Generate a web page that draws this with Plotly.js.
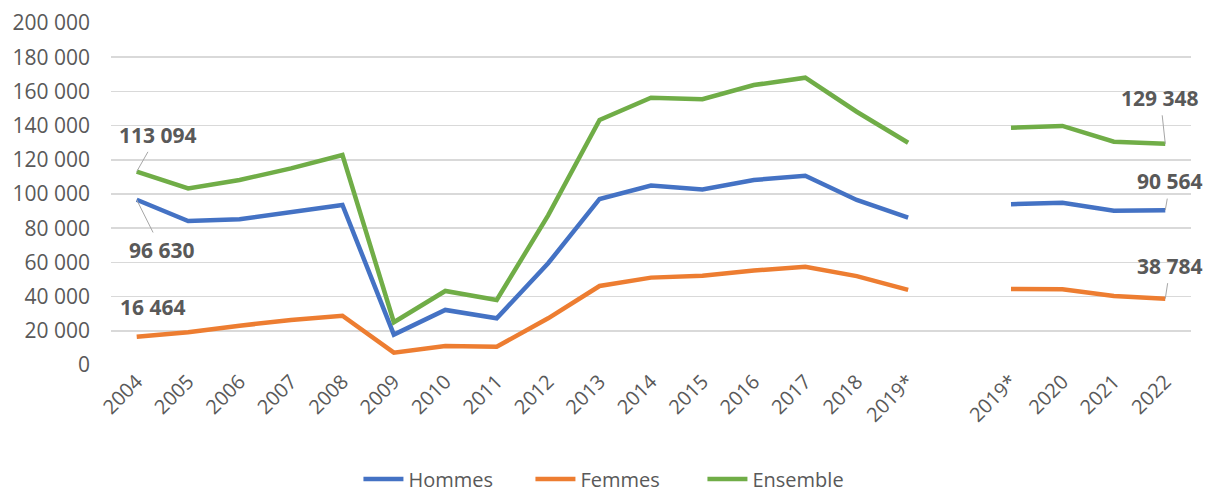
<!DOCTYPE html>
<html>
<head>
<meta charset="utf-8">
<script src="https://cdn.plot.ly/plotly-3.0.1.min.js"></script>
<style>html,body{margin:0;padding:0;background:#fff;}#chart{width:1214px;height:492px;}</style>
</head>
<body>
<div id="chart"></div>
<script>
// Category labels ('' = empty slot separating the two series)
const labels = ['2004','2005','2006','2007','2008','2009','2010','2011','2012','2013','2014','2015','2016','2017','2018','2019*','','2019*','2020','2021','2022'];

const hommes   = [96630, 84200, 85200, 89100, 93600, 17800, 32200, 27300, 59500, 97100, 104900, 102700, 108200, 110700, 96500, 86200, null, 94000, 94900, 90200, 90564];
const femmes   = [16464, 19100, 23000, 26300, 28800, 7200, 11100, 10700, 27300, 46200, 51100, 52200, 55200, 57500, 52000, 43900, null, 44400, 44300, 40400, 38784];
const ensemble = [113094, 103300, 108200, 115000, 122800, 25000, 43300, 38000, 87500, 143300, 156300, 155400, 163700, 168000, 148100, 130000, null, 138800, 139800, 130600, 129348];

const names  = ['Hommes', 'Femmes', 'Ensemble'];
const colors = ['#4472C4', '#ED7D31', '#70AD47'];

const xs = labels.map((_, i) => i);
const tickIdx = xs.filter(i => labels[i] !== '');

function fmt(v) {
  return String(Math.round(v)).replace(/\B(?=(\d{3})+(?!\d))/g, ' ');
}

const series = [hommes, femmes, ensemble];
const traces = series.map((s, k) => ({
  type: 'scatter', mode: 'lines', x: xs, y: s, name: names[k],
  connectgaps: false,
  line: {color: colors[k], width: 4.5, shape: 'linear'},
  hoverinfo: 'skip'
}));

const first = 0, last = labels.length - 1;
const lblFont = {family: 'Open Sans, sans-serif', size: 21, color: '#595959', weight: 'bold'};
function ann(idx, s, ax, ay, arrow) {
  return {
    x: idx, y: s[idx], xref: 'x', yref: 'y',
    text: '<b>' + fmt(s[idx]) + '</b>', font: lblFont,
    showarrow: arrow, arrowhead: 0, arrowwidth: 1, arrowcolor: '#A6A6A6',
    ax: arrow ? ax : 0, ay: arrow ? ay : 0,
    xshift: arrow ? 0 : ax, yshift: arrow ? 0 : -ay,
    standoff: 0, startstandoff: 2
  };
}

const annotations = [
  ann(first, ensemble, 21, -37, true),
  ann(first, hommes, 25, 50, true),
  ann(first, femmes, 16, -30, false),
  ann(last, ensemble, -5, -46, true),
  ann(last, hommes, 5, -29, true),
  ann(last, femmes, 5, -33, true)
];

const layout = {
  width: 1214, height: 492,
  margin: {l: 111, r: 23, t: 23, b: 127, autoexpand: false},
  paper_bgcolor: '#ffffff', plot_bgcolor: '#ffffff',
  separators: ', ',
  font: {family: 'Open Sans, sans-serif', size: 21, color: '#595959'},
  showlegend: true,
  legend: {orientation: 'h', x: 0.468, xanchor: 'center', y: -0.333, yanchor: 'middle',
           font: {size: 20, color: '#595959'}, entrywidth: 117, entrywidthmode: 'pixels',
           itemwidth: 40, tracegroupgap: 0},
  xaxis: {
    range: [-0.5, labels.length - 0.5],
    tickmode: 'array', tickvals: tickIdx, ticktext: tickIdx.map(i => labels[i]),
    tickangle: -45, showgrid: false, zeroline: false, showline: false, ticks: '',
    tickfont: {size: 20, color: '#595959'}, fixedrange: true
  },
  yaxis: {
    range: [0, 200000], dtick: 20000, tick0: 0, tickformat: ',d',
    showgrid: true, gridcolor: '#D9D9D9', gridwidth: 1.5, zeroline: false, showline: false,
    ticks: '', tickfont: {size: 21, color: '#595959'}, ticklabelstandoff: 20, fixedrange: true
  },
  annotations: annotations
};

Plotly.newPlot('chart', traces, layout, {displayModeBar: false, staticPlot: true});
</script>
</body>
</html>
